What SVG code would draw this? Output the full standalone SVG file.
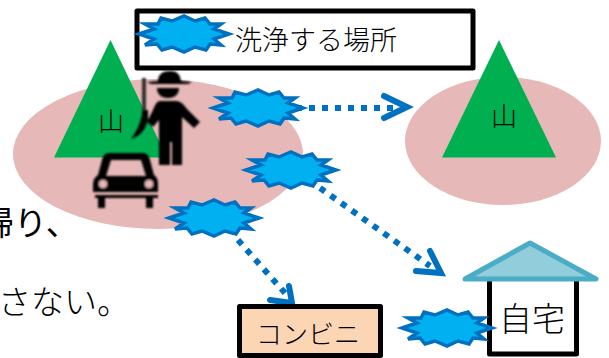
<svg xmlns="http://www.w3.org/2000/svg" width="609" height="358" viewBox="0 0 609 358">
<style>
text{font-family:"Noto Sans CJK JP","Noto Sans",sans-serif;fill:#000}
.l{font-weight:300}
.hill{fill:#e6b8b7}
.mt{fill:#00b050}
.dot{fill:none;stroke:#0070c0;stroke-width:6;stroke-dasharray:6 7}
.head{fill:none;stroke:#0070c0;stroke-width:6;stroke-linecap:round;stroke-linejoin:miter}
.box{stroke:#000;stroke-width:5;stroke-linejoin:round}
</style>
<defs>
<polygon id="star" fill="#00b0f0" stroke="#0070c0" stroke-width="3.500" points="-45,0 -30,-5 -39,-10 -26,-10 -23,-16 -12,-13 0,-18 11,-13 21,-16 26,-10 37,-10 30,-5 45,0 30,5 37,11 26,10 22,16 11,13 0,18 -12,13 -22,16 -27,10 -39,11 -30,5"/>
<filter id="soft" x="-10%" y="-10%" width="120%" height="120%"><feGaussianBlur stdDeviation="0.9"/></filter>
</defs>
<rect width="609" height="358" fill="#fff"/>
<g id="text-fragments">
<text x="-19" y="235" font-size="33">帰り、</text>
<text x="-2" y="314" font-size="33" class="l">さない。</text>
</g>
<g id="hill-left"><ellipse class="hill" cx="158" cy="154" rx="145" ry="75"/></g>
<g id="hill-right"><ellipse class="hill" cx="503" cy="141" rx="98" ry="64"/></g>
<g id="mountain-left">
<polygon class="mt" points="110.500,40 54,157.500 167,157.500"/>
<text x="98" y="131" font-size="26" class="l">山</text>
</g>
<g id="mountain-right">
<polygon class="mt" points="499,40 442,157.500 556,157.500"/>
<text x="491" y="126" font-size="26" class="l">山</text>
</g>
<g id="person" filter="url(#soft)">
<path fill="#333" d="M142,78h4v38h-4z"/>
<path d="M148,110C149,124 144,135 131,139C137,131 141,122 143,110z"/>
<path d="M158,81C158,74 163,71 170,71C177,71 180,74 181,81L192,82L188,84H151L147,82z"/>
<path d="M157,88H179C179,94 175,98 168,98C161,98 157,94 157,88z"/>
<path d="M160,101H176C181,101 184,105 187,109L200,122L194,128L182,117V165H172V142H170V165H159V120L153,127L147,122L153,110C155,105 157,101 160,101z"/>
</g>
<g id="car" filter="url(#soft)">
<path fill-rule="evenodd" d="M109,153H143C147,153 149,156 150,160L154,175C157,177 158,180 158,184V192H93V184C93,180 95,177 98,175L102,160C103,156 105,153 109,153zM111,160L106,176H146L141,160z"/>
<circle cx="103" cy="184" r="4" fill="#e6b8b7"/>
<circle cx="149" cy="184" r="4" fill="#e6b8b7"/>
<path d="M95,195H158V198H153V208H146V198H105V208H98V198H95z"/>
</g>
<g id="connectors">
<path class="dot" d="M296,108H398"/>
<path class="head" d="M384,96L407,107L384,118"/>
<path class="dot" d="M320,188L430,266"/>
<path class="head" d="M430,251L441,273L416,271"/>
<path class="dot" d="M238,240L285,293"/>
<path class="head" d="M289,286L292,303L270,300"/>
</g>
<g id="legend">
<rect x="137" y="11" width="336" height="57" fill="#fff" class="box"/>
<use href="#star" x="184" y="34"/>
<text x="235" y="50" font-size="27" class="l">洗浄する場所</text>
</g>
<g id="store">
<rect x="239.500" y="306.500" width="141" height="49" fill="#fcd5b5" class="box"/>
<text x="256" y="344" font-size="26" class="l">コンビニ</text>
</g>
<g id="home">
<rect x="489.500" y="275" width="87" height="79" fill="#fff" class="box"/>
<polygon points="465,279 530,243 596,279" fill="#92cddc" stroke="#4bacc6" stroke-width="5" stroke-linejoin="round"/>
<text x="499" y="331" font-size="33" class="l">自宅</text>
</g>
<g id="star-road"><use href="#star" x="258" y="108"/></g>
<g id="star-home-route"><use href="#star" x="291" y="170"/></g>
<g id="star-store-route"><use href="#star" x="214" y="218"/></g>
<g id="star-home"><use href="#star" x="447" y="328"/></g>
</svg>
